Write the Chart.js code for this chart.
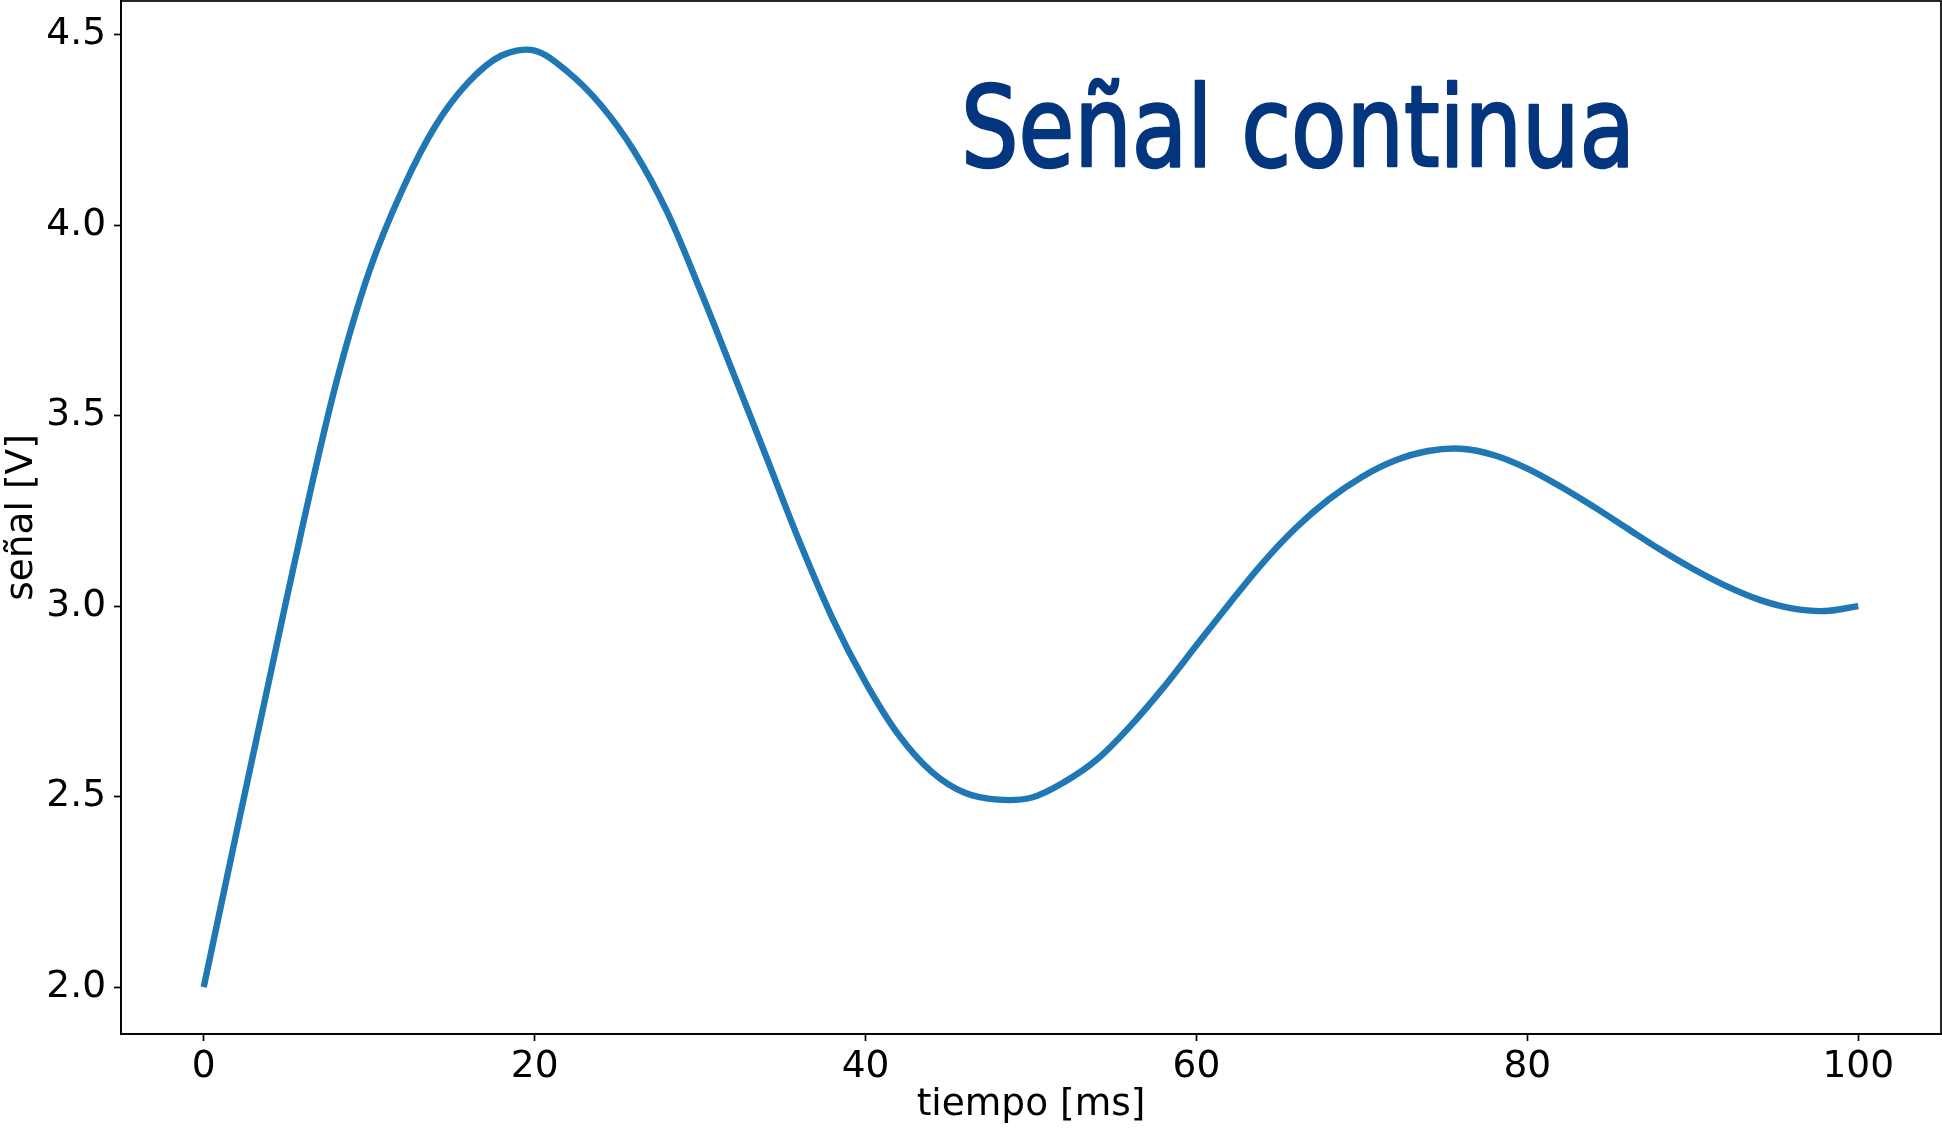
<!DOCTYPE html>
<html>
<head>
<meta charset="utf-8">
<title>Señal continua</title>
<script src="https://cdn.jsdelivr.net/npm/chart.js@4.4.1/dist/chart.umd.min.js"></script>
<style>
  html, body { margin: 0; padding: 0; background: #fff; }
  #grafico { display: block; }
</style>
</head>
<body>
<canvas id="grafico" width="1942" height="1129"></canvas>
<script>
var tiempo = [0, 2, 4, 6, 8, 10, 12, 14, 16, 18, 20, 22, 24, 26, 28, 30, 32, 34, 36, 38, 40,
              42, 44, 46, 48, 50, 52, 54, 56, 58, 60, 62, 64, 66, 68, 70, 72, 74, 76, 78, 80,
              82, 84, 86, 88, 90, 92, 94, 96, 98, 100];
var senal = [2.00, 2.41, 2.815, 3.215, 3.585, 3.878, 4.092, 4.26, 4.375, 4.445, 4.458,
             4.402, 4.315, 4.195, 4.035, 3.83, 3.612, 3.392, 3.17, 2.968, 2.80,
             2.662, 2.565, 2.51, 2.492, 2.497, 2.538, 2.598, 2.685, 2.786, 2.897,
             3.007, 3.113, 3.205, 3.28, 3.339, 3.382, 3.407, 3.413, 3.396, 3.361,
             3.314, 3.261, 3.205, 3.149, 3.098, 3.053, 3.017, 2.994, 2.987, 3.00];

var ticksX = [0, 20, 40, 60, 80, 100];
var ticksY = [2.0, 2.5, 3.0, 3.5, 4.0, 4.5];

var titulo = 'Señal continua';

var fuente = { family: '"DejaVu Sans", sans-serif', size: 37.5 };

// marco completo alrededor del área de la gráfica
var marco = {
  id: 'marco',
  afterDraw: function(chart) {
    var a = chart.chartArea, ctx = chart.ctx;
    ctx.save();
    ctx.strokeStyle = '#000';
    ctx.lineWidth = 1.7;
    ctx.strokeRect(a.left, a.top, a.right - a.left, a.bottom - a.top);
    ctx.restore();
  }
};

// rótulo grande dentro de la gráfica
var rotulo = {
  id: 'rotulo',
  afterDraw: function(chart) {
    var ctx = chart.ctx;
    ctx.save();
    ctx.font = '113px "Liberation Sans Narrow", "DejaVu Sans Condensed", sans-serif';
    ctx.fillStyle = '#04367f';
    ctx.strokeStyle = '#04367f';
    ctx.lineWidth = 2.5;
    ctx.lineJoin = 'round';
    ctx.textBaseline = 'alphabetic';
    var w = ctx.measureText(titulo).width;
    ctx.translate(961, 166);
    ctx.scale(674 / w, 1);
    ctx.fillText(titulo, 0, 0);
    ctx.strokeText(titulo, 0, 0);
    ctx.restore();
  }
};

// sin márgenes extra: el área de datos ocupa lo que dejan los ejes
function ajustarEje(ancho, alto) {
  return function(scale) {
    if (ancho) scale.width = ancho;
    if (alto) scale.height = alto;
    scale.paddingTop = 0;
    scale.paddingBottom = 0;
    scale.paddingLeft = 0;
    scale.paddingRight = 0;
  };
}

var puntos = tiempo.map(function(t, i) { return { x: t, y: senal[i] }; });

new Chart(document.getElementById('grafico'), {
  type: 'line',
  data: {
    datasets: [{
      data: puntos,
      borderColor: '#1f77b4',
      borderWidth: 6.4,
      borderCapStyle: 'butt',
      pointRadius: 0,
      fill: false,
      tension: 0.33
    }]
  },
  options: {
    responsive: false,
    animation: false,
    devicePixelRatio: 1,
    layout: { padding: { top: 1, right: 1, left: 0, bottom: 0 } },
    plugins: {
      legend: { display: false },
      tooltip: { enabled: false },
      title: { display: false }
    },
    scales: {
      x: {
        type: 'linear',
        min: -5,
        max: 105,
        afterBuildTicks: function(scale) {
          scale.ticks = ticksX.map(function(v) { return { value: v }; });
        },
        afterFit: ajustarEje(0, 95),
        grid: { drawOnChartArea: false, drawTicks: true, tickLength: 7, tickWidth: 1.7, tickColor: '#000' },
        border: { display: true, color: '#000', width: 1.7 },
        ticks: {
          color: '#000',
          font: fuente,
          padding: 4,
          maxRotation: 0,
          callback: function(v) { return String(v); }
        },
        title: {
          display: true,
          text: 'tiempo [ms]',
          color: '#000',
          font: fuente,
          padding: { top: 0, bottom: 1 }
        }
      },
      y: {
        type: 'linear',
        min: 1.877,
        max: 4.588,
        afterBuildTicks: function(scale) {
          scale.ticks = ticksY.map(function(v) { return { value: v }; });
        },
        afterFit: ajustarEje(121, 0),
        grid: { drawOnChartArea: false, drawTicks: true, tickLength: 7, tickWidth: 1.7, tickColor: '#000' },
        border: { display: true, color: '#000', width: 1.7 },
        ticks: {
          color: '#000',
          font: fuente,
          padding: 8,
          callback: function(v) { return v.toFixed(1); }
        },
        title: {
          display: true,
          text: 'señal [V]',
          color: '#000',
          font: fuente,
          padding: { top: 0, bottom: 0 }
        }
      }
    }
  },
  plugins: [marco, rotulo]
});
</script>
</body>
</html>
